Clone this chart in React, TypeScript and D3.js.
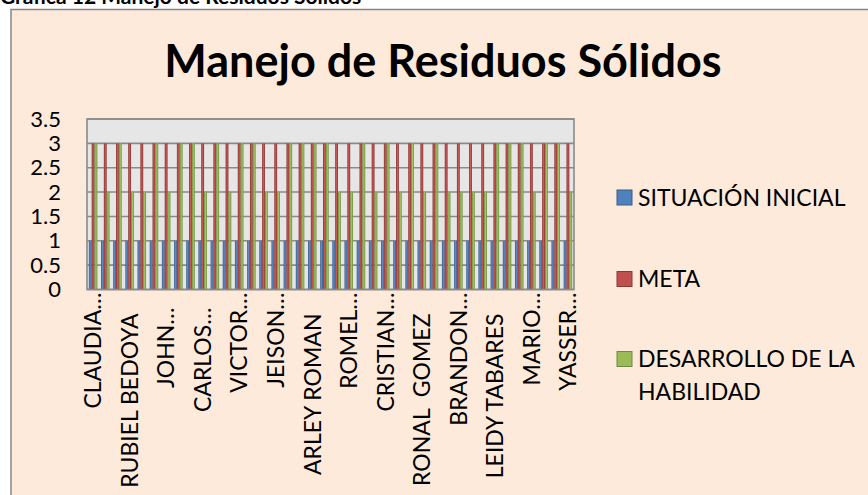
import React from "react";
import * as d3 from "d3";

// ---- data ----
const tickLabels = [
  "CLAUDIA…", "RUBIEL BEDOYA", "JOHN…", "CARLOS…", "VICTOR…", "JEISON…", "ARLEY ROMAN",
  "ROMEL…", "CRISTIAN…", "RONAL  GOMEZ", "BRANDON…", "LEIDY TABARES", "MARIO…", "YASSER…",
];
const situacionInicial = [
  1, 1, 1, 1, 1, 1, 1, 1, 1, 1, 1, 1, 1, 1, 1, 1, 1, 1, 1, 1,
  1, 1, 1, 1, 1, 1, 1, 1, 1, 1, 1, 1, 1, 1, 1, 1, 1, 1, 1, 1,
];
const meta = [
  3, 3, 3, 3, 3, 3, 3, 3, 3, 3, 3, 3, 3, 3, 3, 3, 3, 3, 3, 3,
  3, 3, 3, 3, 3, 3, 3, 3, 3, 3, 3, 3, 3, 3, 3, 3, 3, 3, 3, 3,
];
const desarrollo = [
  3, 2, 3, 2, 2, 3, 2, 3, 3, 2, 3, 2, 3, 3, 2, 2, 3, 3, 3, 3,
  2, 2, 3, 2, 3, 2, 3, 2, 3, 2, 2, 2, 2, 3, 3, 3, 2, 3, 3, 2,
];
const seriesNames = ["SITUACIÓN INICIAL", "META", "DESARROLLO DE LA HABILIDAD"];
const yTicks = [0, 0.5, 1, 1.5, 2, 2.5, 3, 3.5];
const titleText = "Manejo de Residuos Sólidos";
const captionText = "Grafica 12 Manejo de Residuos Solidos";

// ---- layout / style ----
const W = 868;
const H = 495;
const plot = { left: 87, right: 574, top: 119, bottom: 289.5 };
const FONT = "Lato, 'Open Sans', sans-serif";
const seriesStyle = [
  { id: "gBlue", edge: "#365C8C", mid: "#5B8CC9", legend: "#4F81BD", legendStroke: "#385D8A" },
  { id: "gRed", edge: "#88302D", mid: "#C95A57", legend: "#C0504D", legendStroke: "#8C3836" },
  { id: "gGreen", edge: "#6A8935", mid: "#A4C564", legend: "#9BBB59", legendStroke: "#71893F" },
];

export default function App() {
  const n = situacionInicial.length;
  const series = [situacionInicial, meta, desarrollo];
  const x0 = d3
    .scaleBand<number>()
    .domain(d3.range(n))
    .range([plot.left, plot.right])
    .paddingInner(0.3)
    .paddingOuter(0.15);
  const x1 = d3.scaleBand<number>().domain([0, 1, 2]).range([0, x0.bandwidth()]);
  const full = d3.scaleBand<number>().domain(d3.range(n)).range([plot.left, plot.right]);
  const y = d3.scaleLinear().domain([0, 3.5]).range([plot.bottom, plot.top]);

  const labelShift = (s: string) => {
    if (!s.endsWith("…")) return 21;
    if (s === "JOHN…" || s === "CARLOS…") return 15;
    return 0;
  };

  return (
    <div style={{ position: "fixed", left: 0, top: 0 }}>
      <svg width={W} height={H} style={{ display: "block", background: "#fff" }}>
        <defs>
          {seriesStyle.map((s) => (
            <linearGradient key={s.id} id={s.id} x1="0" x2="1" y1="0" y2="0">
              <stop offset="0" stopColor={s.edge} />
              <stop offset="0.5" stopColor={s.mid} />
              <stop offset="1" stopColor={s.edge} />
            </linearGradient>
          ))}
        </defs>

        {/* caption, cut off at top */}
        <text x={0} y={4} fontFamily={FONT} fontWeight="bold" fontSize={21} fill="#000">
          {captionText}
        </text>

        {/* chart area */}
        <rect x={11} y={9.5} width={W + 10} height={H} fill="#FDEADA" stroke="#868686" strokeWidth={1.5} />

        {/* title */}
        <text
          x={443}
          y={77}
          textAnchor="middle"
          fontFamily={FONT}
          fontWeight="bold"
          fontSize={45}
          fill="#000"
        >
          {titleText}
        </text>

        {/* plot area */}
        <rect
          x={plot.left}
          y={plot.top}
          width={plot.right - plot.left}
          height={plot.bottom - plot.top}
          fill="#E6E6E6"
        />
        {yTicks.map((t) => (
          <line
            key={t}
            x1={plot.left}
            x2={plot.right}
            y1={y(t)}
            y2={y(t)}
            stroke="#8A8A8A"
            strokeWidth={1.6}
          />
        ))}

        {/* bars */}
        {series.map((vals, si) =>
          vals.map((v, i) => (
            <rect
              key={si + "-" + i}
              x={(x0(i) as number) + (x1(si) as number)}
              y={y(v)}
              width={x1.bandwidth()}
              height={y(0) - y(v)}
              fill={`url(#${seriesStyle[si].id})`}
            />
          ))
        )}

        <rect
          x={plot.left}
          y={plot.top}
          width={plot.right - plot.left}
          height={plot.bottom - plot.top}
          fill="none"
          stroke="#8A8A8A"
          strokeWidth={1.6}
        />

        {/* y axis labels */}
        {yTicks.map((t) => (
          <text
            key={t}
            x={61}
            y={y(t)}
            dy="0.35em"
            textAnchor="end"
            fontFamily={FONT}
            fontSize={22}
            fill="#000"
          >
            {String(t)}
          </text>
        ))}

        {/* x labels */}
        {d3.range(n)
          .filter((i) => i % 3 === 0)
          .map((i) => {
            const label = tickLabels[i / 3];
            const cx = (full(i) as number) + full.bandwidth() / 2;
            const ty = plot.bottom + 3 + labelShift(label);
            return (
              <text
                key={i}
                transform={`translate(${cx},${ty}) rotate(-90)`}
                dy="0.36em"
                textAnchor="end"
                fontFamily={FONT}
                fontSize={23}
                fill="#000"
                style={{ whiteSpace: "pre" }}
              >
                {label}
              </text>
            );
          })}

        {/* legend */}
        {[
          { lines: [seriesNames[0]], cy: 197.5 },
          { lines: [seriesNames[1]], cy: 279 },
          { lines: ["DESARROLLO DE LA", "HABILIDAD"], cy: 359 },
        ].map((item, si) => (
          <g key={si}>
            <rect
              x={617}
              y={item.cy - 7.5}
              width={15}
              height={15}
              fill={seriesStyle[si].legend}
              stroke={seriesStyle[si].legendStroke}
              strokeWidth={1}
            />
            {item.lines.map((ln, li) => (
              <text
                key={li}
                x={638}
                y={item.cy + 8 + li * 33}
                fontFamily={FONT}
                fontSize={23}
                fill="#000"
              >
                {ln}
              </text>
            ))}
          </g>
        ))}
      </svg>
    </div>
  );
}
